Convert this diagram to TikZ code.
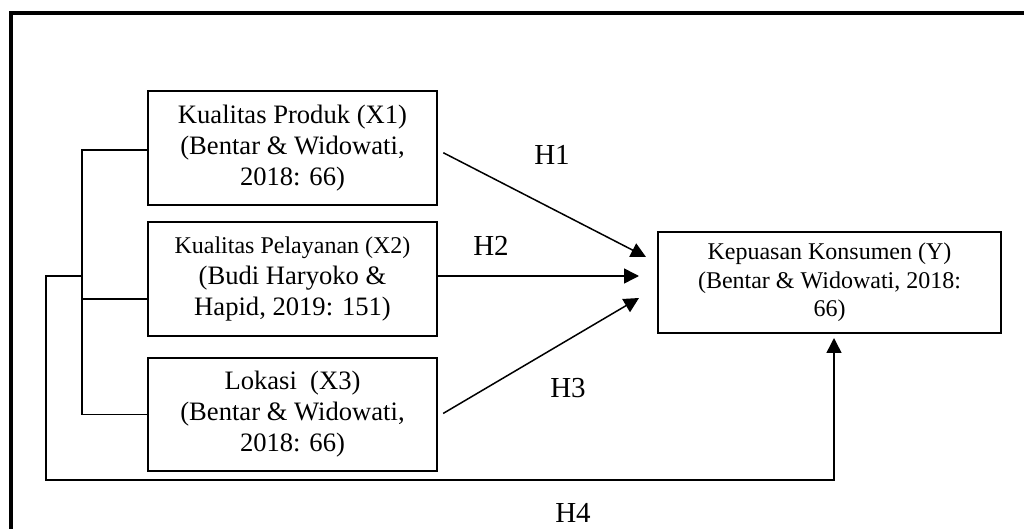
\documentclass[tikz,border=0pt]{standalone}
\usepackage{fontspec}
\setmainfont{Liberation Serif}
\usetikzlibrary{arrows.meta,positioning}

\tikzset{
 varbox/.style={draw,line width=1pt,inner sep=0pt,align=center,
  font=\fontsize{13.3}{15.5}\selectfont},
 link/.style={line width=.75pt},
 path arrow/.style={link,-{Triangle[length=7.5pt,width=7.5pt]}},
 hlabel/.style={font=\fontsize{14.5}{17}\selectfont}
}

\begin{document}
\begin{tikzpicture}[x=0.5pt,y=-0.5pt]
 \useasboundingbox (0,0) rectangle (1024,529);
 % frame
 \draw[line width=2pt] (11,529)--(11,13)--(1024,13);
 % variables
 \node[varbox,minimum width=144.5pt,minimum height=57pt] (X1) at (292.5,148)
  {Kualitas Produk (X1)\\(Bentar \& Widowati,\\2018: 66)};
 \node[varbox,minimum width=144.5pt,minimum height=57pt] (X2) at (292.5,279)
  {{\fontsize{12}{14}\selectfont Kualitas Pelayanan (X2)}\\(Budi Haryoko \&\\Hapid, 2019: 151)};
 \node[varbox,minimum width=144.5pt,minimum height=56.5pt] (X3) at (292.5,414.5)
  {Lokasi~ (X3)\\(Bentar \& Widowati,\\2018: 66)};
 \node[varbox,minimum width=171.5pt,minimum height=50.5pt,
  font=\fontsize{12}{14.2}\selectfont] (Y) at (829.5,282.5)
  {Kepuasan Konsumen (Y)\\(Bentar \& Widowati, 2018:\\66)};
 % bracket on the left
 \coordinate (brk) at (82,150);
 \coordinate (x2in) at (148,299);
 \draw[link] (X1.west |- brk)--(brk)|-(X3.west);
 \draw[link] (x2in)--(brk |- x2in);
 % H4 loop
 \coordinate (h4a) at (82,276);
 \coordinate (h4b) at (46,480);
 \coordinate (h4c) at (834,480);
 \draw[path arrow] (h4a)-|(h4b)--(h4c)--([yshift=-2pt]h4c |- Y.south);
 % arrows into Y
 \coordinate (t1) at (646,257);
 \coordinate (t2) at (639,276);
 \coordinate (t3) at (639,298);
 \draw[path arrow,shorten <=3pt] ([yshift=-1pt]X1.east)--(t1);
 \draw[path arrow] (X2.east |- t2)--(t2);
 \draw[path arrow,shorten <=3pt] ([yshift=-1pt]X3.east)--(t3);
 % labels
 \node[hlabel] (H1) at (552,155) {H1};
 \node[hlabel] (H2) at (491,246) {H2};
 \node[hlabel] (H3) at (568,388) {H3};
 \node[hlabel] (H4) at (573,513) {H4};
\end{tikzpicture}
\end{document}
